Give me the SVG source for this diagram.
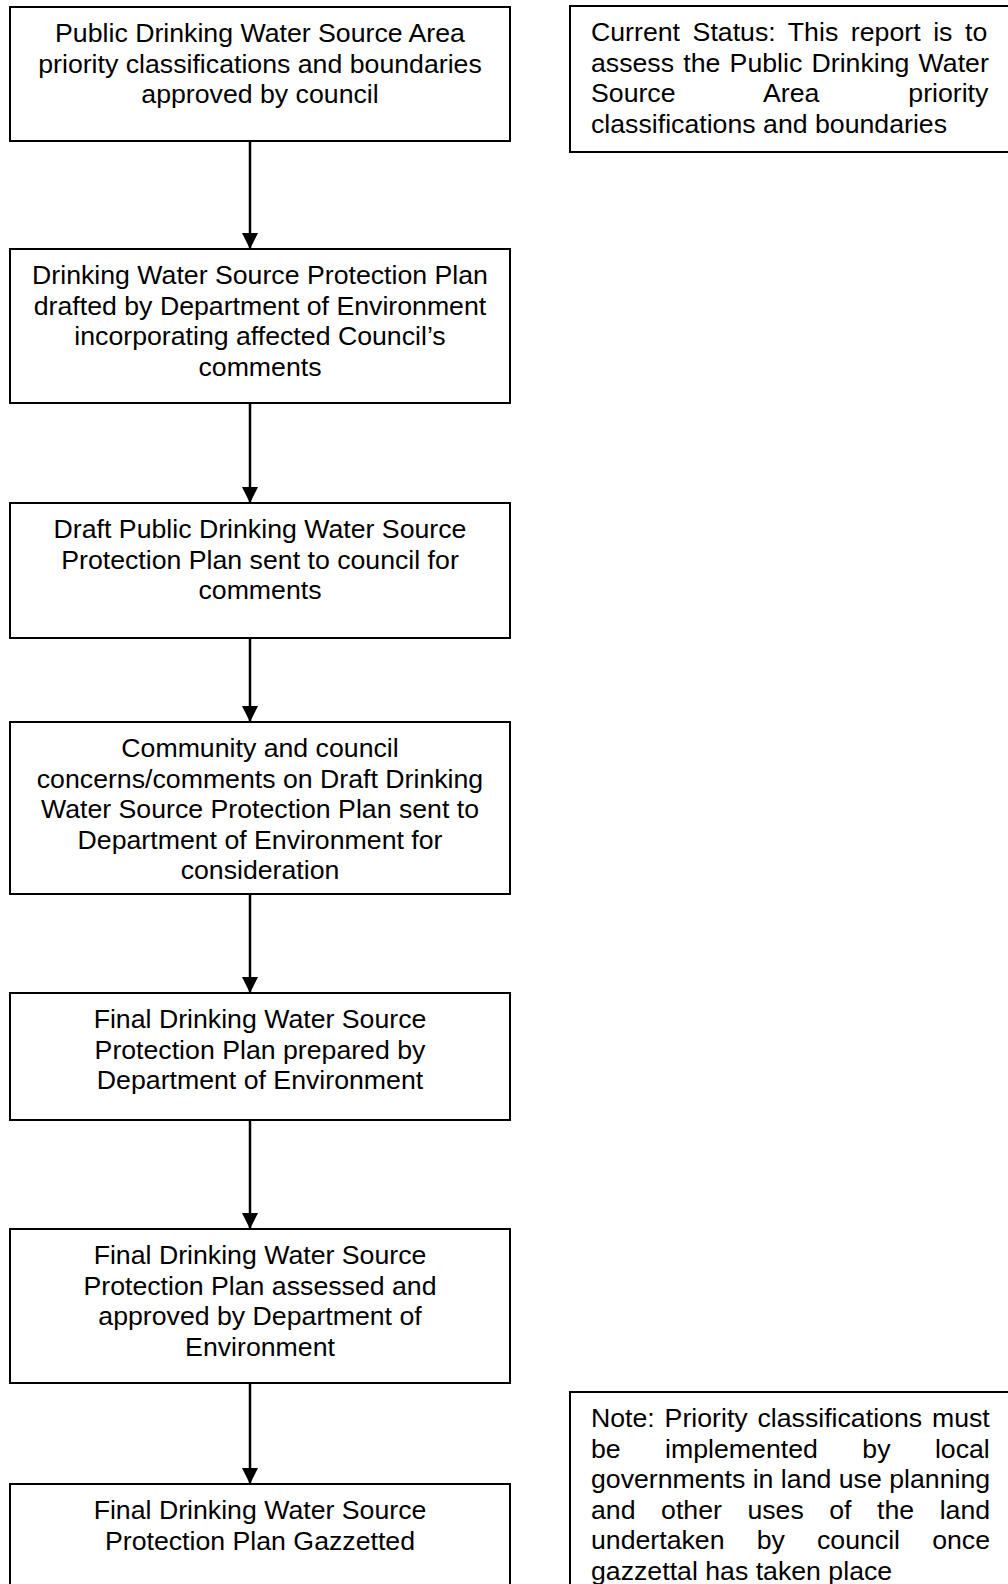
<svg xmlns="http://www.w3.org/2000/svg" width="1008" height="1584" viewBox="0 0 1008 1584">
<style>
.box{fill:#fff;stroke:#000;stroke-width:2}
.t{font-family:"Liberation Sans",Arial,sans-serif;font-size:26.7px;fill:#000}
.c{text-anchor:middle}
.conn{stroke:#000;stroke-width:2.5;fill:none;marker-end:url(#arr)}
</style>
<defs>
<marker id="arr" viewBox="0 0 16 16" refX="16" refY="8" markerWidth="16" markerHeight="16" markerUnits="userSpaceOnUse" orient="auto">
<path d="M0,0 L16,8 L0,16 z" fill="#000"/>
</marker>
</defs>
<rect width="1008" height="1584" fill="#fff"/>
<g id="connectors">
<line class="conn" x1="250" y1="141" x2="250" y2="249"/>
<line class="conn" x1="250" y1="403" x2="250" y2="503"/>
<line class="conn" x1="250" y1="638" x2="250" y2="722"/>
<line class="conn" x1="250" y1="894" x2="250" y2="993"/>
<line class="conn" x1="250" y1="1120" x2="250" y2="1229"/>
<line class="conn" x1="250" y1="1383" x2="250" y2="1484"/>
</g>
<g id="n1">
<rect class="box" x="10" y="7" width="500" height="134"/>
<text class="t c"><tspan x="260" y="42">Public Drinking Water Source Area</tspan><tspan x="260" y="72.5">priority classifications and boundaries</tspan><tspan x="260" y="103">approved by council</tspan></text>
</g>
<g id="n2">
<rect class="box" x="10" y="249" width="500" height="154"/>
<text class="t c"><tspan x="260" y="284">Drinking Water Source Protection Plan</tspan><tspan x="260" y="314.5">drafted by Department of Environment</tspan><tspan x="260" y="345">incorporating affected Council’s</tspan><tspan x="260" y="375.5">comments</tspan></text>
</g>
<g id="n3">
<rect class="box" x="10" y="503" width="500" height="135"/>
<text class="t c"><tspan x="260" y="538">Draft Public Drinking Water Source</tspan><tspan x="260" y="568.5">Protection Plan sent to council for</tspan><tspan x="260" y="599">comments</tspan></text>
</g>
<g id="n4">
<rect class="box" x="10" y="722" width="500" height="172"/>
<text class="t c"><tspan x="260" y="757">Community and council</tspan><tspan x="260" y="787.5">concerns/comments on Draft Drinking</tspan><tspan x="260" y="818">Water Source Protection Plan sent to</tspan><tspan x="260" y="848.5">Department of Environment for</tspan><tspan x="260" y="879">consideration</tspan></text>
</g>
<g id="n5">
<rect class="box" x="10" y="993" width="500" height="127"/>
<text class="t c"><tspan x="260" y="1028">Final Drinking Water Source</tspan><tspan x="260" y="1058.5">Protection Plan prepared by</tspan><tspan x="260" y="1089">Department of Environment</tspan></text>
</g>
<g id="n6">
<rect class="box" x="10" y="1229" width="500" height="154"/>
<text class="t c"><tspan x="260" y="1264">Final Drinking Water Source</tspan><tspan x="260" y="1294.5">Protection Plan assessed and</tspan><tspan x="260" y="1325">approved by Department of</tspan><tspan x="260" y="1355.5">Environment</tspan></text>
</g>
<g id="n7">
<rect class="box" x="10" y="1484" width="500" height="130"/>
<text class="t c"><tspan x="260" y="1519">Final Drinking Water Source</tspan><tspan x="260" y="1549.5">Protection Plan Gazzetted</tspan></text>
</g>
<g id="status">
<rect class="box" x="570" y="6" width="460" height="146"/>
<text class="t"><tspan x="591" y="41" word-spacing="5.2">Current Status: This report is to</tspan><tspan x="591" y="71.5" word-spacing="1.8">assess the Public Drinking Water</tspan><tspan x="591" y="102" word-spacing="81.5">Source Area priority</tspan><tspan x="591" y="132.5">classifications and boundaries</tspan></text>
</g>
<g id="note">
<rect class="box" x="570" y="1392" width="460" height="220"/>
<text class="t"><tspan x="591" y="1427" word-spacing="2.4">Note: Priority classifications must</tspan><tspan x="591" y="1457.5" word-spacing="37">be implemented by local</tspan><tspan x="591" y="1488">governments in land use planning</tspan><tspan x="591" y="1518.5" word-spacing="18.1">and other uses of the land</tspan><tspan x="591" y="1549" word-spacing="24.7">undertaken by council once</tspan><tspan x="591" y="1579.5">gazzettal has taken place</tspan></text>
</g>
</svg>
